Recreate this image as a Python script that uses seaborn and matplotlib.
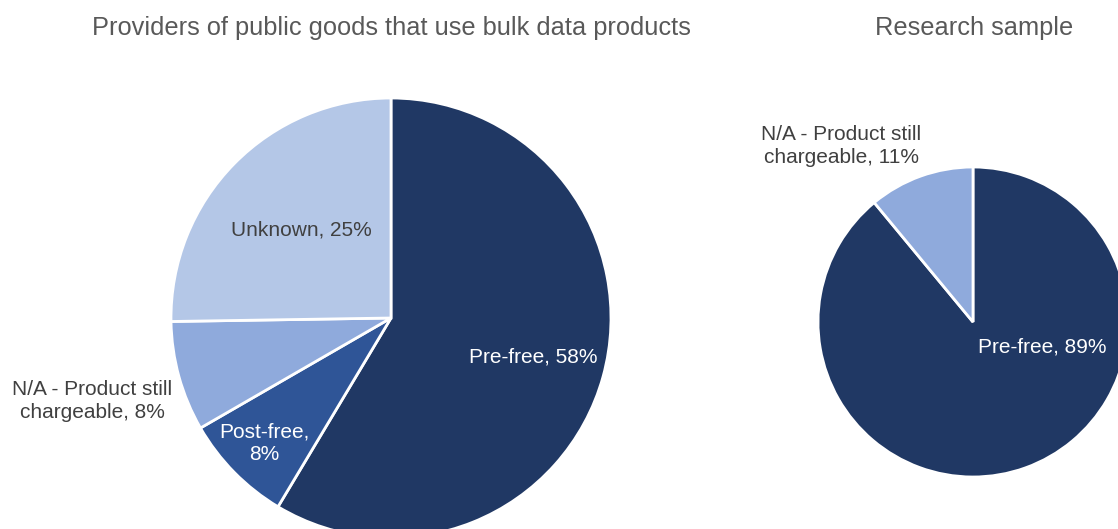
import numpy as np
import matplotlib
matplotlib.use("Agg")
import matplotlib.pyplot as plt
import seaborn as sns

# Data
providers_labels = ["Pre-free", "Post-free", "N/A - Product still\nchargeable", "Unknown"]
providers_values = [58, 8, 8, 25]
sample_labels = ["Pre-free", "N/A - Product still\nchargeable"]
sample_values = [89, 11]

titles = ["Providers of public goods that use bulk data products", "Research sample"]

# Colours
NAVY = "#203864"
MID_BLUE = "#2F5597"
LIGHT_BLUE = "#8FAADC"
PALE_BLUE = "#B4C7E7"
TEXT_GREY = "#404040"
TITLE_GREY = "#595959"

sns.set_theme(style="white")
plt.rcParams["font.family"] = ["Liberation Sans", "DejaVu Sans"]

W, H = 1118, 529
fig = plt.figure(figsize=(W / 100, H / 100), dpi=100)
ax = fig.add_axes([0, 0, 1, 1])

wedge_style = dict(edgecolor="white", linewidth=2)

# Left pie
c1, r1 = (391, H - 318), 220
wedges1, _ = ax.pie(providers_values, colors=[NAVY, MID_BLUE, LIGHT_BLUE, PALE_BLUE],
                    startangle=90, counterclock=False, center=c1, radius=r1,
                    wedgeprops=wedge_style)

# Right pie
c2, r2 = (973, H - 322), 155
wedges2, _ = ax.pie(sample_values, colors=[NAVY, LIGHT_BLUE],
                    startangle=90, counterclock=False, center=c2, radius=r2,
                    wedgeprops=wedge_style)

ax.set_xlim(0, W)
ax.set_ylim(0, H)
ax.set_aspect("equal")
ax.axis("off")


def at_mid(wedge, center, radius, dist):
    mid = np.deg2rad((wedge.theta1 + wedge.theta2) / 2)
    return center[0] + radius * dist * np.cos(mid), center[1] + radius * dist * np.sin(mid)


fs = 15
ls = 1.25
label_style = [("white", 0.67), ("white", 0.81), (TEXT_GREY, 1.41), (TEXT_GREY, 0.57)]
for w, lab, val, (col, d) in zip(wedges1, providers_labels, providers_values, label_style):
    x, y = at_mid(w, c1, r1, d)
    txt = f"{lab}, {val}%"
    if lab == "Post-free":
        txt = f"{lab},\n{val}%"
    ax.text(x, y, txt, ha="center", va="center", color=col, fontsize=fs,
            linespacing=ls)

# Right pie labels
ax.text(c2[0] + 69, c2[1] - 25, f"{sample_labels[0]}, {sample_values[0]}%",
        ha="center", va="center", color="white", fontsize=fs)
ax.text(c2[0] - 132, c2[1] + 176, f"{sample_labels[1]}, {sample_values[1]}%",
        ha="center", va="center", color=TEXT_GREY, fontsize=fs, linespacing=ls)

# Titles
ax.text(391, H - 28, titles[0], ha="center", va="center", color=TITLE_GREY, fontsize=18.3)
ax.text(974, H - 28, titles[1], ha="center", va="center", color=TITLE_GREY, fontsize=18.3)

fig.savefig("out.png", dpi=100, facecolor="white")
